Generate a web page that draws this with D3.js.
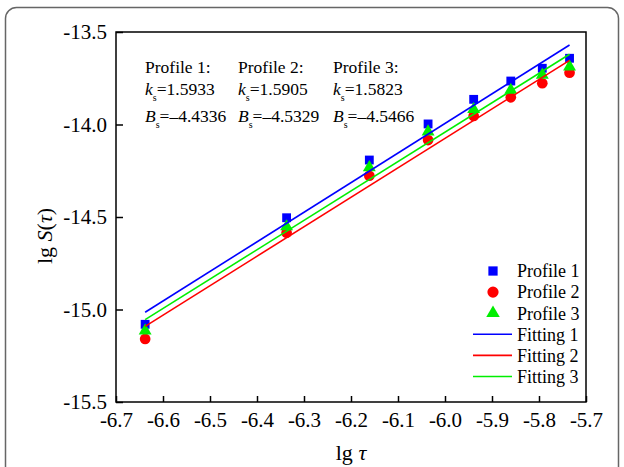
<!DOCTYPE html>
<html>
<head>
<meta charset="utf-8">
<script src="https://cdn.jsdelivr.net/npm/d3@7"></script>
<style>
  body { margin: 0; background: #fff; }
  svg, svg text { font-family: "Liberation Serif", "Times New Roman", serif !important; }
</style>
</head>
<body>
<div id="chart-area"><svg></svg></div>
<script>
const CHART_SIZE = { width: 624, height: 467 };
const MARGIN = { left: 116, right: 38, top: 32, bottom: 65 };
const WIDTH = CHART_SIZE.width - (MARGIN.left + MARGIN.right);
const HEIGHT = CHART_SIZE.height - (MARGIN.top + MARGIN.bottom);

// data
const lgTau = [-6.638, -6.337, -6.161, -6.036, -5.939, -5.860, -5.793, -5.735];
const profile1 = [-15.080, -14.504, -14.192, -13.997, -13.864, -13.765, -13.696, -13.642];
const profile2 = [-15.159, -14.585, -14.277, -14.084, -13.954, -13.853, -13.777, -13.720];
const profile3 = [-15.115, -14.552, -14.232, -14.039, -13.918, -13.814, -13.732, -13.688];

const fitX = [-6.638, -5.735];
const fitting1 = [-15.015, -13.570];
const fitting2 = [-15.091, -13.653];
const fitting3 = [-15.055, -13.620];

const xTicks = [-6.7, -6.6, -6.5, -6.4, -6.3, -6.2, -6.1, -6.0, -5.9, -5.8, -5.7];
const yTicks = [-15.5, -15.0, -14.5, -14.0, -13.5];

const profileNames = ["Profile 1", "Profile 2", "Profile 3"];
const fittingNames = ["Fitting 1", "Fitting 2", "Fitting 3"];
const ksValues = ["1.5933", "1.5905", "1.5823"];
const bsValues = ["\u20134.4336", "\u20134.5329", "\u20134.5466"];

const COLORS = ["#0000ff", "#ff0000", "#00ee00"];
const SYMBOLS = [d3.symbolSquare, d3.symbolCircle, d3.symbolTriangle];
const SYMBOL_SIZES = [78, 90, 72];

const main = () => {
  const svg = d3.select("#chart-area svg")
    .attr("width", CHART_SIZE.width)
    .attr("height", CHART_SIZE.height);

  // outer rounded card border
  svg.append("rect")
    .attr("x", 5.5).attr("y", 7.5)
    .attr("width", 613).attr("height", 480)
    .attr("rx", 11)
    .attr("fill", "none")
    .attr("stroke", "#666")
    .attr("stroke-width", 1.5);

  const g = svg.append("g")
    .attr("transform", `translate(${MARGIN.left},${MARGIN.top})`);

  const x = d3.scaleLinear().domain([-6.7, -5.7]).range([0, WIDTH]);
  const y = d3.scaleLinear().domain([-15.5, -13.5]).range([HEIGHT, 0]);

  const xAxis = d3.axisBottom(x)
    .tickValues(xTicks)
    .tickSizeInner(-6).tickSizeOuter(0)
    .tickPadding(10)
    .tickFormat(d => d.toFixed(1));
  const yAxis = d3.axisLeft(y)
    .tickValues(yTicks)
    .tickSizeInner(-7).tickSizeOuter(0)
    .tickPadding(9)
    .tickFormat(d => d.toFixed(1));

  const xg = g.append("g").attr("transform", `translate(0,${HEIGHT})`).call(xAxis);
  const yg = g.append("g").call(yAxis);
  [xg, yg].forEach(a => {
    a.attr("font-family", null).attr("font-size", null);
    a.select(".domain").remove();
    a.selectAll("line").attr("stroke", "#000").attr("stroke-width", 1.5);
    a.selectAll("text").attr("fill", "#000").style("font-size", "21px");
  });

  // frame
  g.append("rect")
    .attr("width", WIDTH).attr("height", HEIGHT)
    .attr("fill", "none").attr("stroke", "#000").attr("stroke-width", 1.5);

  // points
  [profile1, profile2, profile3].forEach((vals, i) => {
    g.append("g").selectAll("path")
      .data(vals)
      .join("path")
      .attr("transform", (v, j) => `translate(${x(lgTau[j])},${y(v)})`)
      .attr("d", d3.symbol(SYMBOLS[i], SYMBOL_SIZES[i]))
      .attr("fill", COLORS[i]);
  });

  // fitted lines
  const line = d3.line().x((d, j) => x(fitX[j])).y(d => y(d));
  [fitting1, fitting2, fitting3].forEach((vals, i) => {
    g.append("path")
      .attr("d", line(vals))
      .attr("fill", "none")
      .attr("stroke", COLORS[i])
      .attr("stroke-width", 1.6);
  });

  // annotation text
  const colX = [29, 122, 217];
  profileNames.forEach((name, i) => {
    const t = g.append("g").attr("transform", `translate(${colX[i]},0)`).style("font-size", "17.5px");
    t.append("text").attr("y", 41).text(name + ":");
    const k = t.append("text").attr("y", 63);
    k.append("tspan").style("font-style", "italic").text("k");
    k.append("tspan").attr("dy", 6).style("font-size", "10px").text("s");
    k.append("tspan").attr("dy", -6).text("=" + ksValues[i]);
    const b = t.append("text").attr("y", 90);
    b.append("tspan").style("font-style", "italic").text("B");
    b.append("tspan").attr("dy", 6).style("font-size", "10px").text("s");
    b.append("tspan").attr("dy", -6).text("=" + bsValues[i]);
  });

  // legend
  const legend = g.append("g").attr("transform", `translate(${377},${239})`).style("font-size", "18px");
  const rowH = 21.1;
  profileNames.forEach((name, i) => {
    legend.append("path")
      .attr("transform", `translate(0,${i * rowH})`)
      .attr("d", d3.symbol(SYMBOLS[i], SYMBOL_SIZES[i] * 1.1))
      .attr("fill", COLORS[i]);
    legend.append("text").attr("x", 24).attr("y", i * rowH).attr("dy", "0.35em").text(name);
  });
  fittingNames.forEach((name, i) => {
    const yy = (i + 3) * rowH;
    legend.append("line")
      .attr("x1", -20).attr("x2", 19).attr("y1", yy).attr("y2", yy)
      .attr("stroke", COLORS[i]).attr("stroke-width", 1.6);
    legend.append("text").attr("x", 24).attr("y", yy).attr("dy", "0.35em").text(name);
  });

  // axis titles
  const xt = svg.append("text")
    .attr("x", MARGIN.left + WIDTH / 2).attr("y", 460)
    .attr("text-anchor", "middle").style("font-size", "22px");
  xt.append("tspan").text("lg ");
  xt.append("tspan").style("font-style", "italic").text("\u03c4");

  const yt = svg.append("text")
    .attr("transform", "translate(52,264) rotate(-90)")
    .style("font-size", "22px");
  yt.append("tspan").text("lg ");
  yt.append("tspan").style("font-style", "italic").text("S");
  yt.append("tspan").text("(");
  yt.append("tspan").style("font-style", "italic").text("\u03c4");
  yt.append("tspan").text(")");
};

window.onload = main;
</script>
</body>
</html>
